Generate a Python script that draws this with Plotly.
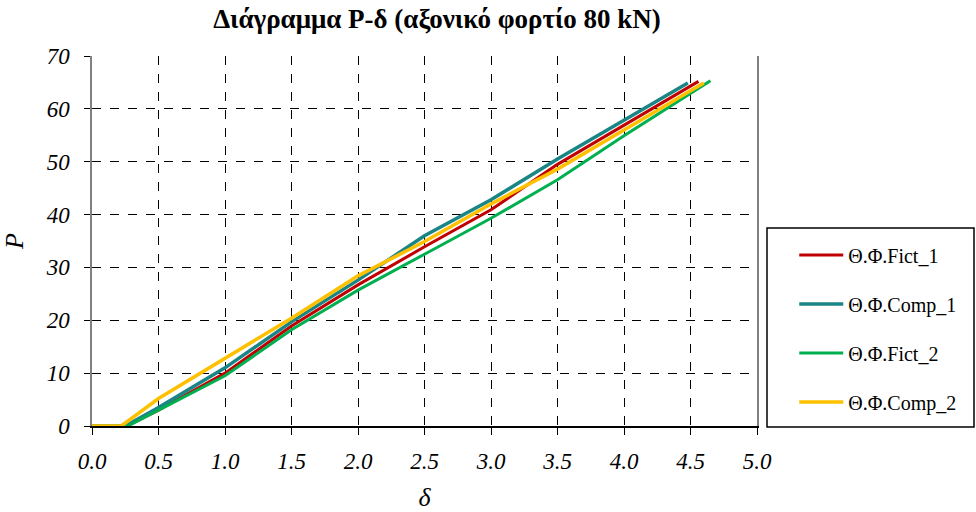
import plotly.graph_objects as go

# Data
names = ["Θ.Φ.Fict_1", "Θ.Φ.Comp_1", "Θ.Φ.Fict_2", "Θ.Φ.Comp_2"]
colors = ["#C00000", "#1A8585", "#00B050", "#FFC000"]
widths = [3, 3.5, 3, 3.5]

d_fict1 = [0, 0.10, 0.26, 0.5, 1.0, 1.5, 2.0, 2.5, 3.0, 3.5, 4.0, 4.56]
p_fict1 = [0, 0, 0, 3.0, 10.0, 18.9, 26.7, 33.9, 40.9, 49.5, 56.9, 65.2]

d_comp1 = [0, 0.10, 0.25, 0.5, 1.0, 1.5, 2.0, 2.5, 3.0, 3.5, 4.0, 4.48]
p_comp1 = [0, 0, 0, 3.5, 11.0, 19.7, 27.6, 36.0, 42.8, 50.5, 57.9, 64.9]

d_fict2 = [0, 0.10, 0.27, 0.5, 1.0, 1.5, 2.0, 2.5, 3.0, 3.5, 4.0, 4.65]
p_fict2 = [0, 0, 0, 3.0, 9.5, 18.2, 25.7, 32.5, 39.3, 46.6, 54.9, 65.3]

d_comp2 = [0, 0.10, 0.22, 0.5, 1.0, 1.5, 2.0, 2.5, 3.0, 3.5, 4.0, 4.60]
p_comp2 = [0, 0, 0, 5.2, 12.8, 20.4, 28.4, 34.9, 42.0, 48.6, 56.0, 64.9]

xs = [d_fict1, d_comp1, d_fict2, d_comp2]
ys = [p_fict1, p_comp1, p_fict2, p_comp2]

x_ticks = [0, 0.5, 1.0, 1.5, 2.0, 2.5, 3.0, 3.5, 4.0, 4.5, 5.0]
x_ticklabels = ["0.0", "0.5", "1.0", "1.5", "2.0", "2.5", "3.0", "3.5", "4.0", "4.5", "5.0"]
y_ticks = [0, 10, 20, 30, 40, 50, 60, 70]

title_text = "Διάγραμμα P-δ (αξονικό φορτίο 80 kN)"
serif = "Liberation Serif, Times New Roman, serif"

fig = go.Figure()
for i in range(4):
    fig.add_trace(go.Scatter(
        x=xs[i], y=ys[i], mode="lines", name=names[i],
        line=dict(color=colors[i], width=widths[i]),
        legendgroup=f"g{i}",
    ))

fig.update_layout(
    width=976, height=512,
    margin=dict(l=92, r=219, t=56, b=86, autoexpand=False),
    paper_bgcolor="white", plot_bgcolor="white",
    title=dict(text=f"<b>{title_text}</b>", x=437 / 976, xanchor="center",
               y=1 - 19 / 512, yanchor="middle", xref="container",
               font=dict(family=serif, size=27, color="black")),
    font=dict(family=serif, color="black"),
    showlegend=True,
    legend=dict(x=1.056, xanchor="left", y=0.515, yanchor="top",
                font=dict(family=serif, size=20, color="black"),
                itemwidth=44,
                tracegroupgap=20, bgcolor="rgba(0,0,0,0)", borderwidth=0),
    xaxis=dict(range=[0, 5], tickvals=x_ticks, ticktext=x_ticklabels,
               showgrid=True, gridcolor="black", griddash="dash", gridwidth=1,
               showline=True, linecolor="black", linewidth=1.5,
               ticks="outside", ticklen=7, tickcolor="black",
               ticklabelstandoff=7, automargin=False,
               tickfont=dict(family=serif, size=23, style="italic", color="black"),
               title=dict(text="δ", font=dict(family=serif, size=26, style="italic"), standoff=20),
               zeroline=False),
    yaxis=dict(range=[0, 70], tickvals=y_ticks,
               showgrid=True, gridcolor="black", griddash="dash", gridwidth=1,
               showline=True, linecolor="#808080", linewidth=1.5, mirror=True,
               ticks="outside", ticklen=6, tickcolor="black",
               ticklabelstandoff=10, automargin=False,
               tickfont=dict(family=serif, size=23, style="italic", color="black"),
               title=dict(text="P", font=dict(family=serif, size=26, style="italic"), standoff=16),
               zeroline=False),
    shapes=[dict(type="rect", xref="paper", yref="paper",
                 x0=(767 - 92) / 665, x1=(974 - 92) / 665,
                 y0=(426 - 427) / 370, y1=(426 - 228) / 370,
                 line=dict(color="black", width=1.5), fillcolor="rgba(0,0,0,0)")],
)

fig.write_html("out.html", config={"displayModeBar": False},
               post_script="document.body.style.margin='0px';")
